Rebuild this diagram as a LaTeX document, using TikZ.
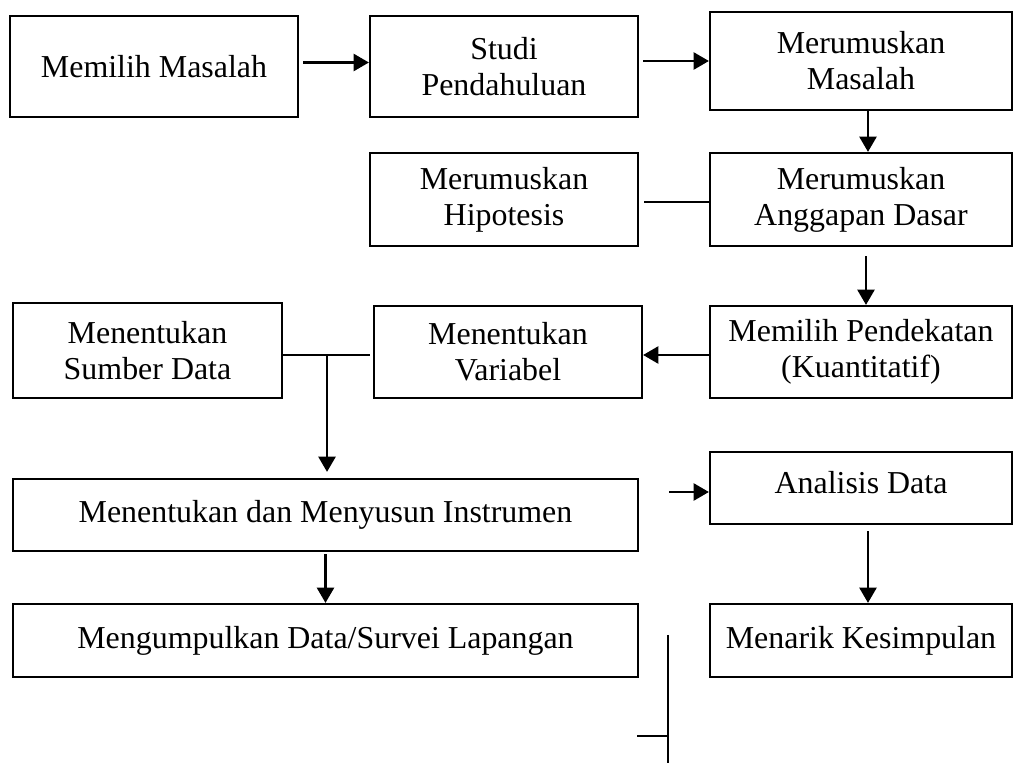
\documentclass[tikz,border=0pt]{standalone}
\usepackage{fontspec}
\setmainfont{Liberation Serif}
\usepackage{tikz}
\usetikzlibrary{arrows.meta}
\newcommand{\px}{0.376pt}

\begin{document}
\begin{tikzpicture}[x=\px,y=-\px,line width=.8pt,
  box/.style={draw,align=center,inner sep=2pt,font=\fontsize{12}{13.5}\selectfont},
  arr/.style={-{Triangle[length=5.8pt,width=6.4pt]},line width=1.1pt}]
  \useasboundingbox (0,0) rectangle (1014,763);
  % top row
  \node[box,minimum width=288*\px,minimum height=101*\px] (memilih) at (154,66.5) {Memilih Masalah};
  \node[box,minimum width=268*\px,minimum height=101*\px] (studi) at (504,66.5) {Studi\\Pendahuluan};
  \node[box,minimum width=302*\px,minimum height=98*\px] (rumusan) at (861,61) {Merumuskan\\Masalah};
  \node[box,minimum width=268*\px,minimum height=93*\px] (hipotesis) at (504,199.5) {Merumuskan\\Hipotesis};
  \node[box,minimum width=302*\px,minimum height=93*\px] (anggapan) at (861,199.5) {Merumuskan\\Anggapan Dasar};
  % middle row
  \node[box,minimum width=269*\px,minimum height=95*\px] (sumber) at (147.5,350.5) {Menentukan\\Sumber Data};
  \node[box,minimum width=268*\px,minimum height=92*\px] (variabel) at (508,352) {Menentukan\\Variabel};
  \node[box,minimum width=302*\px,minimum height=92*\px] (pendekatan) at (861,352) {Memilih Pendekatan\\(Kuantitatif)};
  % bottom rows
  \node[box,minimum width=625*\px,minimum height=72*\px] (instrumen) at (325.5,515) {Menentukan dan Menyusun Instrumen};
  \node[box,minimum width=302*\px,minimum height=72*\px,text depth=4.4pt] (analisis) at (861,488) {Analisis Data};
  \node[box,minimum width=625*\px,minimum height=73*\px] (kumpul) at (325.5,640.5) {Mengumpulkan Data/Survei Lapangan};
  \node[box,minimum width=302*\px,minimum height=73*\px] (simpulan) at (861,640.5) {Menarik Kesimpulan};
  \coordinate (masuk) at (669,492);
  \coordinate (garisA) at (668,635);
  \coordinate (garisB) at (668,763);
  \coordinate (taut) at (668,736);
  % connectors
  \draw[arr] ([shift={(4,-4)}]memilih.east) -- ([shift={(0,-4)}]studi.west);
  \draw[arr] ([shift={(4,-5.5)}]studi.east) -- (rumusan.west);
  \draw[arr] ([shift={(7,0)}]rumusan.south) -- ([shift={(7,0)}]anggapan.north);
  \draw ([shift={(5,2.5)}]hipotesis.east) -- ([shift={(0,2.5)}]anggapan.west);
  \draw[arr] ([shift={(5,9)}]anggapan.south) -- ([shift={(5,0)}]pendekatan.north);
  \draw[arr] ([shift={(0,3)}]pendekatan.west) -- ([shift={(0,3)}]variabel.east);
  \draw ([shift={(0,4.5)}]sumber.east) -- coordinate[pos=.506] (cabang) ([shift={(-3,3)}]variabel.west);
  \draw[arr] (cabang) -- ([shift={(0,-6)}]cabang |- instrumen.north);
  \draw[arr] ([shift={(0,2)}]instrumen.south) -- (kumpul.north);
  \draw[arr] (masuk) -- ([shift={(0,4)}]analisis.west);
  \draw[arr] ([shift={(7,6)}]analisis.south) -- ([shift={(7,0)}]simpulan.north);
  \draw (garisA) -- (garisB);
  \draw (taut) -- ++(-31,0);
\end{tikzpicture}
\end{document}
